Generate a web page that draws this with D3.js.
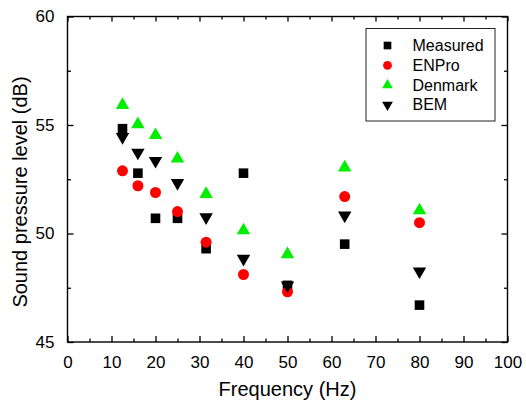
<!DOCTYPE html>
<html>
<head>
<meta charset="utf-8">
<script src="https://cdn.jsdelivr.net/npm/d3@7"></script>
<style>
  body { margin: 0; background: #fff; }
  svg { font-family: "Liberation Sans", Arial, sans-serif; }
</style>
</head>
<body>
<div id="chart"></div>
<script>
// one-third octave bands (Hz)
const frequencies = [12.5, 16, 20, 25, 31.5, 40, 50, 63, 80];

const measured = [54.83, 52.78, 50.70, 50.70, 49.30, 52.78, 47.61, 49.51, 46.70];
const enpro    = [52.89, 52.20, 51.89, 51.01, 49.60, 48.11, 47.31, 51.70, 50.50];
const denmark  = [55.92, 55.03, 54.53, 53.45, 51.82, 50.14, 49.04, 53.04, 51.06];
const bem      = [54.45, 53.73, 53.35, 52.33, 50.75, 48.84, 47.61, 50.83, 48.26];

const seriesNames = ["Measured", "ENPro", "Denmark", "BEM"];

const xTicks = [0, 10, 20, 30, 40, 50, 60, 70, 80, 90, 100];
const yTicks = [45, 50, 55, 60];

const width = 526, height = 403;
const margin = {top: 16.5, right: 18.5, bottom: 61, left: 67.5};
const innerW = width - margin.left - margin.right;
const innerH = height - margin.top - margin.bottom;

let svg = d3.select("#chart")
    .append("svg")
    .attr("width", width)
    .attr("height", height)
    .append("g")
    .attr("transform", `translate(${margin.left}, ${margin.top})`);

let x = d3.scaleLinear().domain([0, 100]).range([0, innerW]);
let y = d3.scaleLinear().domain([45, 60]).range([innerH, 0]);

// minor ticks at half steps
const xMinor = d3.range(5, 100, 10);
const yMinor = [47.5, 52.5, 57.5];

function styleAxis(g) {
    g.select(".domain").remove();
    g.selectAll("line").attr("stroke", "#000").attr("stroke-width", 1.3);
    g.selectAll("text")
        .attr("fill", "#000")
        .style("font-size", "17px")
        .style("font-family", "'Liberation Sans', Arial, sans-serif");
}

// bottom axis (ticks pointing inward)
svg.append("g")
    .attr("transform", `translate(0, ${innerH})`)
    .call(d3.axisBottom(x).tickValues(xTicks).tickSizeInner(-6).tickSizeOuter(0).tickPadding(14).tickFormat(d3.format("d")))
    .call(styleAxis);
svg.append("g")
    .attr("transform", `translate(0, ${innerH})`)
    .call(d3.axisBottom(x).tickValues(xMinor).tickSize(-3.5).tickFormat(""))
    .call(styleAxis);

// top axis
svg.append("g")
    .call(d3.axisTop(x).tickValues(xTicks).tickSize(-5).tickFormat(""))
    .call(styleAxis);
svg.append("g")
    .call(d3.axisTop(x).tickValues(xMinor).tickSize(-3).tickFormat(""))
    .call(styleAxis);

// left axis
svg.append("g")
    .call(d3.axisLeft(y).tickValues(yTicks).tickSizeInner(-6).tickSizeOuter(0).tickPadding(13).tickFormat(d3.format("d")))
    .call(styleAxis);
svg.append("g")
    .call(d3.axisLeft(y).tickValues(yMinor).tickSize(-3.5).tickFormat(""))
    .call(styleAxis);

// right axis
svg.append("g")
    .attr("transform", `translate(${innerW}, 0)`)
    .call(d3.axisRight(y).tickValues(yTicks).tickSize(-6).tickFormat(""))
    .call(styleAxis);
svg.append("g")
    .attr("transform", `translate(${innerW}, 0)`)
    .call(d3.axisRight(y).tickValues(yMinor).tickSize(-3.5).tickFormat(""))
    .call(styleAxis);

// frame
svg.append("rect")
    .attr("width", innerW)
    .attr("height", innerH)
    .attr("fill", "none")
    .attr("stroke", "#000")
    .attr("stroke-width", 1.4);

// axis titles
svg.append("text")
    .attr("x", innerW / 2)
    .attr("y", innerH + 54)
    .style("text-anchor", "middle")
    .style("font-size", "20px")
    .text("Frequency (Hz)");

svg.append("text")
    .attr("transform", `translate(${27 - margin.left}, ${192 - margin.top}) rotate(-90)`)
    .style("text-anchor", "middle")
    .style("font-size", "20px")
    .text("Sound pressure level (dB)");

// marker shapes
const symbols = {
    "Measured": {path: d3.symbol().type(d3.symbolSquare).size(92)(), color: "#000", rot: 0},
    "ENPro":    {path: d3.symbol().type(d3.symbolCircle).size(95)(), color: "#ff0000", rot: 0},
    "Denmark":  {path: d3.symbol().type(d3.symbolTriangle).size(78)(), color: "#00ee00", rot: 0},
    "BEM":      {path: d3.symbol().type(d3.symbolTriangle).size(78)(), color: "#000", rot: 180}
};

const seriesData = {
    "Measured": measured,
    "ENPro": enpro,
    "Denmark": denmark,
    "BEM": bem
};

seriesNames.forEach(name => {
    let s = symbols[name];
    let pts = frequencies.map((f, i) => ({f: f, v: seriesData[name][i]}));
    svg.append("g")
        .selectAll("path")
        .data(pts)
        .enter()
        .append("path")
            .attr("d", s.path)
            .attr("fill", s.color)
            .attr("transform", d => `translate(${x(d.f)}, ${y(d.v)}) rotate(${s.rot})`);
});

// legend
let legend = svg.append("g")
    .attr("transform", `translate(${366 - margin.left}, ${28.5 - margin.top})`);

legend.append("rect")
    .attr("width", 129)
    .attr("height", 92.5)
    .attr("fill", "#fff")
    .attr("stroke", "#222")
    .attr("stroke-width", 1);

seriesNames.forEach((name, i) => {
    let s = symbols[name];
    let row = legend.append("g")
        .attr("transform", `translate(0, ${17 + i * 19.8})`);
    row.append("path")
        .attr("d", s.path)
        .attr("fill", s.color)
        .attr("transform", `translate(21.5, 0) rotate(${s.rot}) scale(0.8)`);
    row.append("text")
        .attr("x", 46.5)
        .attr("y", 5.5)
        .style("font-size", "16px")
        .text(name);
});
</script>
</body>
</html>
